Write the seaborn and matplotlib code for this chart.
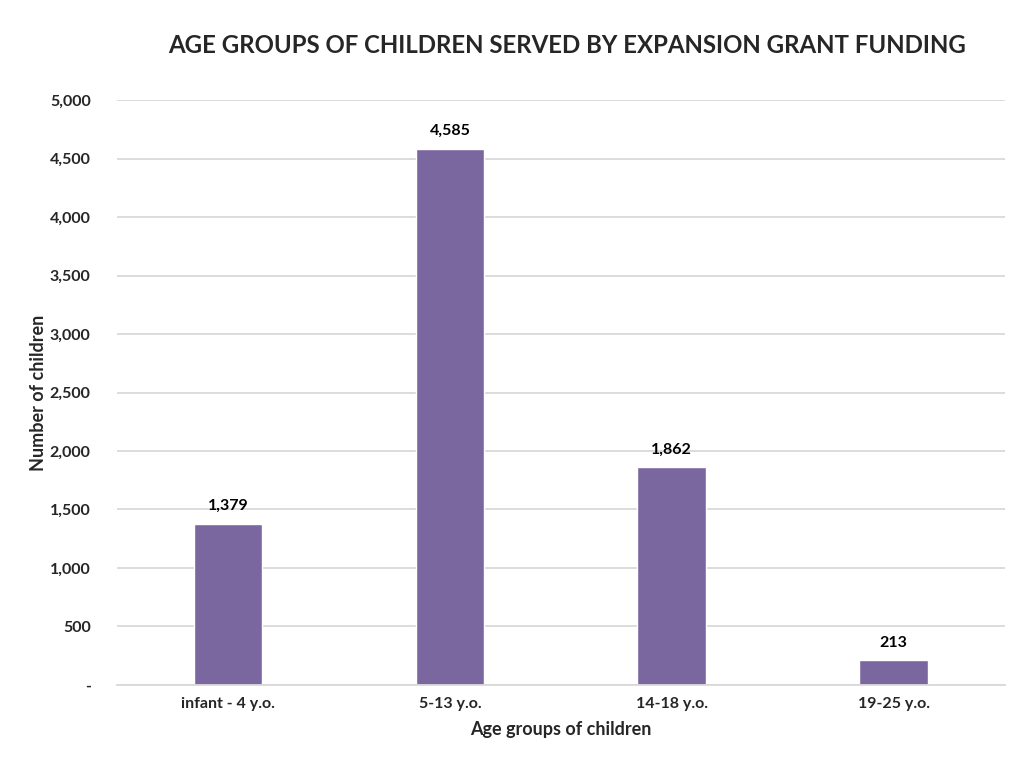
import matplotlib
matplotlib.use('Agg')
import matplotlib.pyplot as plt
import matplotlib.ticker as mticker
import seaborn as sns
import pandas as pd

categories = ['infant - 4 y.o.', '5-13 y.o.', '14-18 y.o.', '19-25 y.o.']
children = [1379, 4585, 1862, 213]

bar_color = '#7B67A0'

sns.set_theme(style='white')
plt.rcParams['font.family'] = ['Lato', 'DejaVu Sans']

df = pd.DataFrame({'group': categories, 'children': children})

fig = plt.figure(figsize=(10.18, 7.6), dpi=100)
ax = fig.add_axes([0.115, 0.0987, 0.872, 0.7697])

sns.barplot(data=df, x='group', y='children', color=bar_color, width=0.31,
            saturation=1, ax=ax)

ax.set_ylim(0, 5000)
ax.set_xlim(-0.5, 3.5)
ax.yaxis.set_major_locator(mticker.MultipleLocator(500))
ax.yaxis.set_major_formatter(mticker.FuncFormatter(
    lambda v, p: '-' if v == 0 else f'{int(v):,}'))
ax.grid(axis='y', color='#D9D9D9', linewidth=1.3)
ax.set_axisbelow(True)
for s in ['top', 'right', 'left']:
    ax.spines[s].set_visible(False)
ax.spines['bottom'].set_color('#D9D9D9')
ax.spines['bottom'].set_linewidth(1.3)
ax.tick_params(axis='both', length=0, labelsize=11.5)
ax.tick_params(axis='y', pad=19)
ax.tick_params(axis='x', pad=9)
for lab in ax.get_xticklabels() + ax.get_yticklabels():
    lab.set_fontweight('bold')

for i, v in enumerate(children):
    ax.text(i, v + 90, f'{v:,}', ha='center', va='bottom',
            fontsize=11.5, fontweight='bold', color='black')

ax.set_xlabel('Age groups of children', fontsize=13, fontweight='bold', labelpad=7)
ax.set_ylabel('Number of children', fontsize=13, fontweight='bold', labelpad=2)

fig.text(0.557, 0.94, 'AGE GROUPS OF CHILDREN SERVED BY EXPANSION GRANT FUNDING',
         ha='center', va='center', fontsize=17.3, fontweight='bold')

fig.savefig('out.png', dpi=100)
